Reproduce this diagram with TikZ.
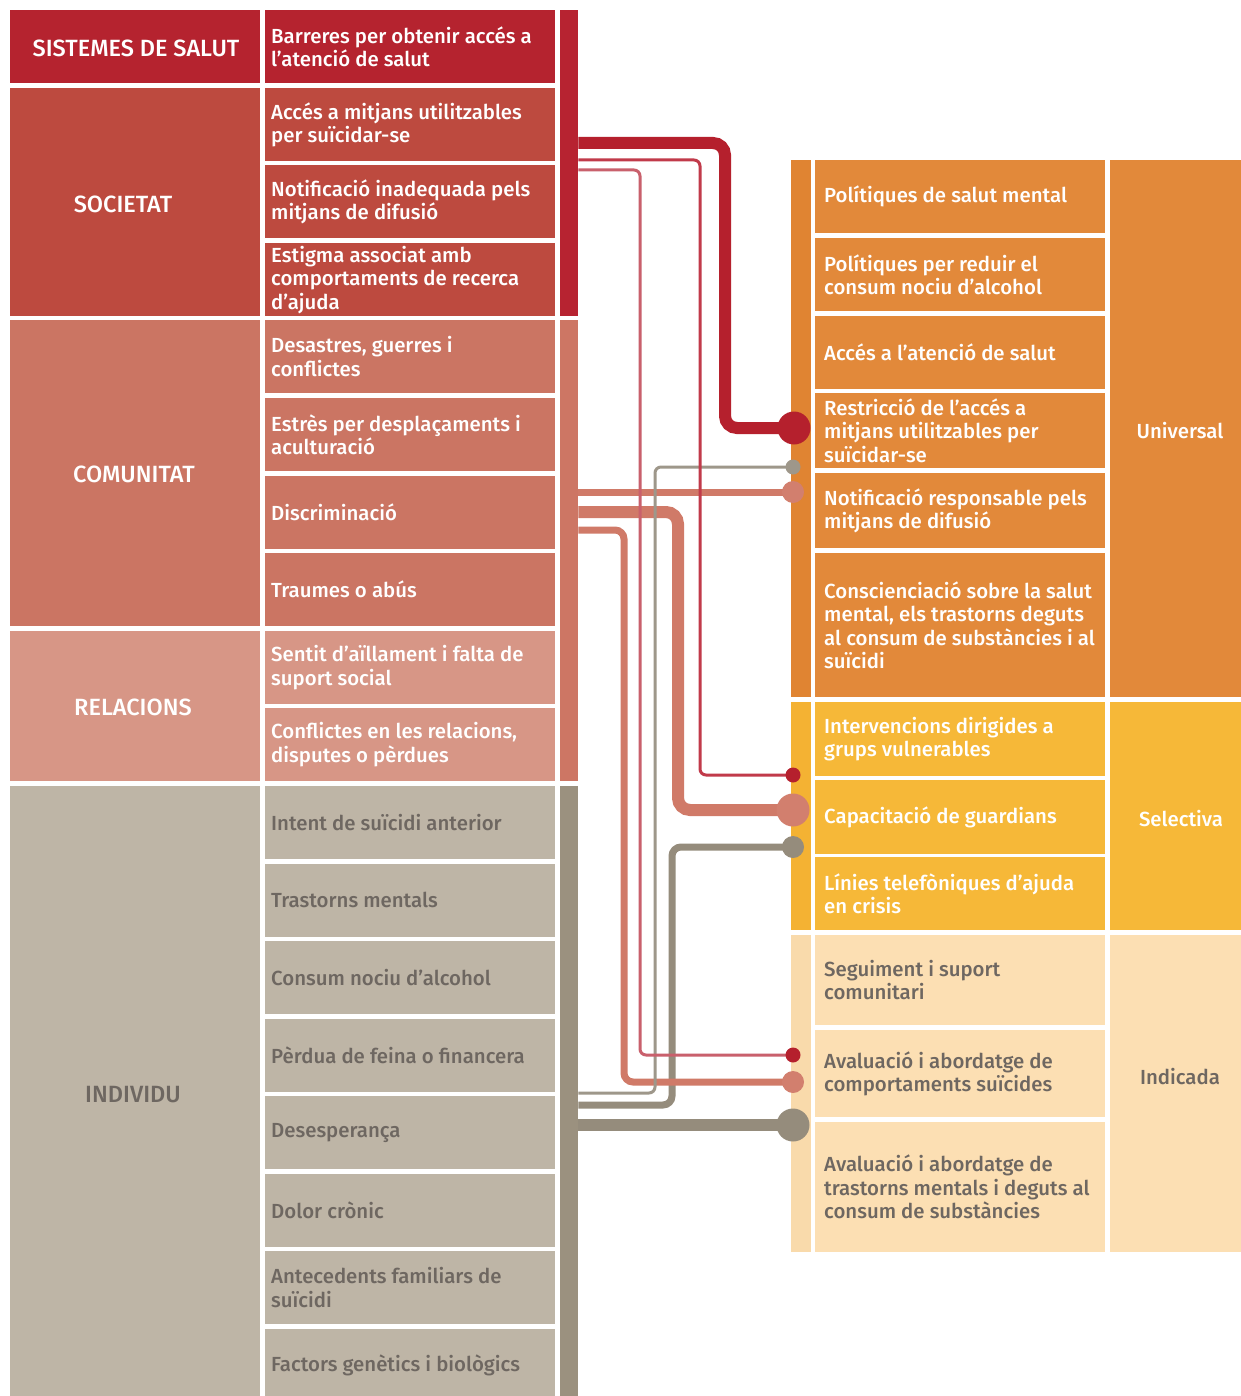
\documentclass[tikz,border=0pt]{standalone}
\usepackage{fontspec}
\setmainfont{Fira Sans}[UprightFont={* Medium}]
\definecolor{cSys}{HTML}{B5232F}
\definecolor{cSoc}{HTML}{BD4A3F}
\definecolor{cCom}{HTML}{CB7563}
\definecolor{cRel}{HTML}{D79686}
\definecolor{cInd}{HTML}{BEB5A6}
\definecolor{sTop}{HTML}{B72331}
\definecolor{sMid}{HTML}{CD7664}
\definecolor{sBot}{HTML}{9B917F}
\definecolor{cUni}{HTML}{E2893A}
\definecolor{cSel}{HTML}{F6B838}
\definecolor{cIdc}{HTML}{FCDFB3}
\definecolor{rsUni}{HTML}{E08432}
\definecolor{rsSel}{HTML}{F4B233}
\definecolor{rsIdc}{HTML}{F9DAAB}
\definecolor{tGray}{HTML}{6E6761}
\definecolor{lRed}{HTML}{B5202D}
\definecolor{lRedA}{HTML}{C13A4A}
\definecolor{lRedB}{HTML}{C9606C}
\definecolor{lSal}{HTML}{D07A68}
\definecolor{dSal}{HTML}{D27F6E}
\definecolor{lGrayT}{HTML}{9E978A}
\definecolor{lGray}{HTML}{958C7C}
\newcommand\itemfont{\fontsize{20.4}{23.5}\selectfont}
\newcommand\grpfont{\fontsize{23.5}{27}\selectfont}
\tikzset{
  cellbox/.style={inner sep=0pt, minimum width=290pt, anchor=north west},
  celltext/.style={inner sep=0pt, align=left, anchor=west, font=\itemfont},
  grpbox/.style={inner sep=0pt, minimum width=250pt, minimum height=#1, anchor=north west},
  rgrpbox/.style={inner sep=0pt, minimum width=140pt, minimum height=#1, anchor=north west},
  stripebox/.style={inner sep=0pt, minimum width=#1, anchor=north west},
  glabel/.style={font=\grpfont, text=white, inner sep=0pt},
  rlabel/.style={font=\itemfont, text=white, inner sep=0pt},
  conthick/.style={line width=12pt, rounded corners=12pt},
  conmed/.style={line width=7pt, rounded corners=9pt},
  conthin/.style={line width=3pt, rounded corners=6pt},
  dotS/.style={circle, inner sep=0pt, minimum size=15pt},
  dotM/.style={circle, inner sep=0pt, minimum size=22pt},
  dotL/.style={circle, inner sep=0pt, minimum size=33pt},
}
% #1 name, #2 x, #3 y(top), #4 height, #5 fill, #6 text colour, #7 left pad, #8 text
\newcommand\mkcell[8]{%
  \node[cellbox, minimum height=#4, fill=#5] (#1) at (#2,#3) {};
  \node[celltext, text=#6] (#1t) at ([xshift=#7]#1.west) {#8};}
\begin{document}
\begin{tikzpicture}[x=1pt,y=-1pt]
\useasboundingbox (0,0) rectangle (1240,1396);
\fill[white] (0,0) rectangle (1240,1396);
% ---- left groups
\node[grpbox=73pt, fill=cSys] (gSys) at (10,10) {};
\node[grpbox=228pt, fill=cSoc] (gSoc) at (10,88) {};
\node[grpbox=306pt, fill=cCom] (gCom) at (10,320) {};
\node[grpbox=150pt, fill=cRel] (gRel) at (10,631) {};
\node[grpbox=620pt, fill=cInd] (gInd) at (10,786) {};
\node[glabel] (gSysT) at (136,48) {SISTEMES DE SALUT};
\node[glabel] (gSocT) at (123,204) {SOCIETAT};
\node[glabel] (gComT) at (134,474) {COMUNITAT};
\node[glabel] (gRelT) at (133,707) {RELACIONS};
\node[glabel, text=tGray] (gIndT) at (133,1095) {INDIVIDU};
% ---- left stripes
\node[stripebox=18pt, minimum height=306pt, fill=sTop] (lsTop) at (560,10) {};
\node[stripebox=18pt, minimum height=461pt, fill=sMid] (lsMid) at (560,320) {};
\node[stripebox=18pt, minimum height=620pt, fill=sBot] (lsBot) at (560,786) {};
% ---- left items
\mkcell{l1}{265}{10}{73pt}{cSys}{white}{6pt}{Barreres per obtenir accés a\\l’atenció de salut}
\mkcell{l2}{265}{88}{73pt}{cSoc}{white}{6pt}{Accés a mitjans utilitzables\\per suïcidar-se}
\mkcell{l3}{265}{165}{73pt}{cSoc}{white}{6pt}{Notificació inadequada pels\\mitjans de difusió}
\mkcell{l4}{265}{243}{73pt}{cSoc}{white}{6pt}{Estigma associat amb\\comportaments de recerca\\d’ajuda}
\mkcell{l5}{265}{320}{73pt}{cCom}{white}{6pt}{Desastres, guerres i\\conflictes}
\mkcell{l6}{265}{398}{73pt}{cCom}{white}{6pt}{Estrès per desplaçaments i\\aculturació}
\mkcell{l7}{265}{475.5}{73pt}{cCom}{white}{6pt}{Discriminació}
\mkcell{l8}{265}{553}{73pt}{cCom}{white}{6pt}{Traumes o abús}
\mkcell{l9}{265}{631}{73pt}{cRel}{white}{6pt}{Sentit d’aïllament i falta de\\suport social}
\mkcell{l10}{265}{708}{73pt}{cRel}{white}{6pt}{Conflictes en les relacions,\\disputes o pèrdues}
\mkcell{l11}{265}{786}{73pt}{cInd}{tGray}{6pt}{Intent de suïcidi anterior}
\mkcell{l12}{265}{863.5}{73pt}{cInd}{tGray}{6pt}{Trastorns mentals}
\mkcell{l13}{265}{941}{73pt}{cInd}{tGray}{6pt}{Consum nociu d’alcohol}
\mkcell{l14}{265}{1018.5}{73pt}{cInd}{tGray}{6pt}{Pèrdua de feina o financera}
\mkcell{l15}{265}{1096}{73pt}{cInd}{tGray}{6pt}{Desesperança}
\mkcell{l16}{265}{1173.5}{73pt}{cInd}{tGray}{6pt}{Dolor crònic}
\mkcell{l17}{265}{1251}{73pt}{cInd}{tGray}{6pt}{Antecedents familiars de\\suïcidi}
\mkcell{l18}{265}{1328.5}{73pt}{cInd}{tGray}{6pt}{Factors genètics i biològics}
% ---- right groups
\node[rgrpbox=537pt, fill=cUni] (gUni) at (1110,160) {};
\node[rgrpbox=228pt, fill=cSel] (gSel) at (1110,702) {};
\node[rgrpbox=317pt, fill=cIdc] (gIdc) at (1110,935) {};
\node[rlabel] (gUniT) at (1180,431) {Universal};
\node[rlabel] (gSelT) at (1181,819) {Selectiva};
\node[rlabel, text=tGray] (gIdcT) at (1180,1077) {Indicada};
% ---- right stripes
\node[stripebox=20pt, minimum height=537pt, fill=rsUni] (rsU) at (791,160) {};
\node[stripebox=20pt, minimum height=228pt, fill=rsSel] (rsS) at (791,702) {};
\node[stripebox=20pt, minimum height=317pt, fill=rsIdc] (rsI) at (791,935) {};
% ---- right items
\mkcell{r1}{815}{160}{73pt}{cUni}{white}{9pt}{Polítiques de salut mental}
\mkcell{r2}{815}{238}{73pt}{cUni}{white}{9pt}{Polítiques per reduir el\\consum nociu d’alcohol}
\mkcell{r3}{815}{316}{73pt}{cUni}{white}{9pt}{Accés a l’atenció de salut}
\mkcell{r4}{815}{393}{75pt}{cUni}{white}{9pt}{Restricció de l’accés a\\mitjans utilitzables per\\suïcidar-se}
\mkcell{r5}{815}{473}{75pt}{cUni}{white}{9pt}{Notificació responsable pels\\mitjans de difusió}
\mkcell{r6}{815}{553}{144pt}{cUni}{white}{9pt}{Conscienciació sobre la salut\\mental, els trastorns deguts\\al consum de substàncies i al\\suïcidi}
\mkcell{r7}{815}{702}{74pt}{cSel}{white}{9pt}{Intervencions dirigides a\\grups vulnerables}
\mkcell{r8}{815}{780}{74pt}{cSel}{white}{9pt}{Capacitació de guardians}
\mkcell{r9}{815}{857}{73pt}{cSel}{white}{9pt}{Línies telefòniques d’ajuda\\en crisis}
\mkcell{r10}{815}{935}{90pt}{cIdc}{tGray}{9pt}{Seguiment i suport\\comunitari}
\mkcell{r11}{815}{1030}{87pt}{cIdc}{tGray}{9pt}{Avaluació i abordatge de\\comportaments suïcides}
\mkcell{r12}{815}{1122}{130pt}{cIdc}{tGray}{9pt}{Avaluació i abordatge de\\trastorns mentals i deguts al\\consum de substàncies}
% ---- end points of connectors
\coordinate (pA) at (794,428);
\coordinate (pB) at (793,467);
\coordinate (pC) at (793,492);
\coordinate (pD) at (793,775);
\coordinate (pE) at (793,810);
\coordinate (pF) at (793,847);
\coordinate (pG) at (793,1055);
\coordinate (pH) at (793,1082);
\coordinate (pI) at (793,1125);
% ---- connectors
\draw[conthick, lGray] (lsBot.east |- 0,1125) -- (pI);
\draw[conmed, lGray] (lsBot.east |- 0,1105) -| ([xshift=-121pt]pF) -- (pF);
\draw[conmed, lSal] (lsMid.east |- 0,492) -- (pC);
\draw[conthick, lSal] (lsMid.east |- 0,512) -| ([xshift=-115pt]pE) -- (pE);
\draw[conmed, lSal] (lsMid.east |- 0,530) -| ([xshift=-169pt]pH) -- (pH);
\draw[conthin, lGrayT] (lsBot.east |- 0,1093) -| ([xshift=-138pt]pB) -- (pB);
\draw[conthin, lRedB] (lsTop.east |- 0,170) -| ([xshift=-153pt]pG) -- (pG);
\draw[conthin, lRedA] (lsTop.east |- 0,160) -| ([xshift=-93pt]pD) -- (pD);
\draw[conthick, lRed] (lsTop.east |- 0,143) -| ([xshift=-69pt]pA) -- (pA);
% ---- end dots
\node[dotL, fill=lRed] (dA) at (pA) {};
\node[dotS, fill=lGrayT] (dB) at (pB) {};
\node[dotM, fill=dSal] (dC) at (pC) {};
\node[dotS, fill=lRed] (dD) at (pD) {};
\node[dotL, fill=dSal] (dE) at (pE) {};
\node[dotM, fill=lGray] (dF) at (pF) {};
\node[dotS, fill=lRed] (dG) at (pG) {};
\node[dotM, fill=dSal] (dH) at (pH) {};
\node[dotL, fill=lGray] (dI) at (pI) {};
\end{tikzpicture}
\end{document}
